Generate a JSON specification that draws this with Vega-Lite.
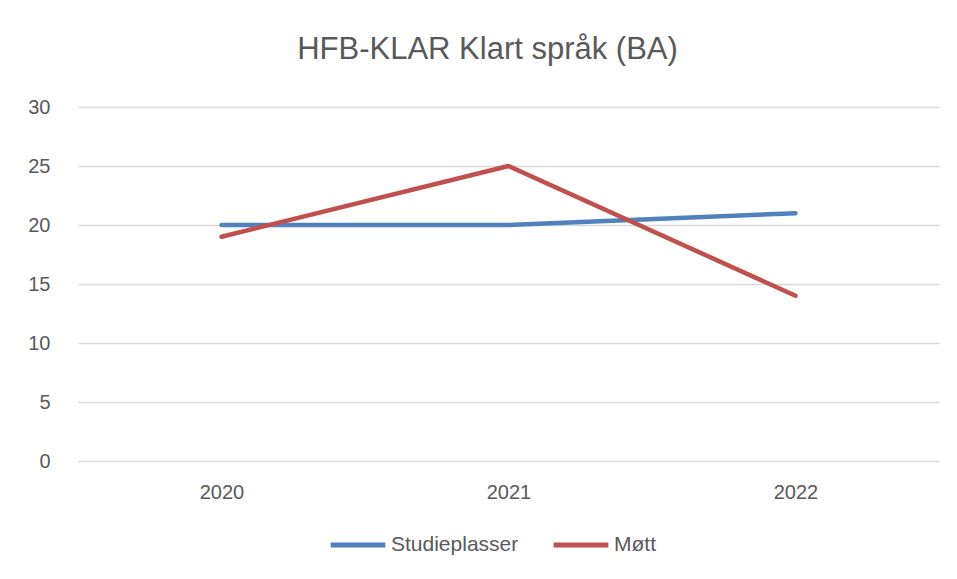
{
  "$schema": "https://vega.github.io/schema/vega-lite/v6.json",
  "width": 861,
  "height": 354,
  "autosize": {"type": "none"},
  "padding": {"left": 78, "top": 107, "right": 18, "bottom": 118},
  "background": "white",
  "title": {
    "text": "HFB-KLAR Klart språk (BA)",
    "font": "Liberation Sans",
    "fontSize": 31,
    "fontWeight": "normal",
    "color": "#595959",
    "anchor": "middle",
    "frame": "group",
    "dx": -21,
    "offset": 31
  },
  "data": {
    "values": [
      {"year": "2020", "series": "Studieplasser", "value": 20},
      {"year": "2021", "series": "Studieplasser", "value": 20},
      {"year": "2022", "series": "Studieplasser", "value": 21},
      {"year": "2020", "series": "Møtt", "value": 19},
      {"year": "2021", "series": "Møtt", "value": 25},
      {"year": "2022", "series": "Møtt", "value": 14}
    ]
  },
  "mark": {"type": "line", "strokeWidth": 4.5, "strokeCap": "round", "strokeJoin": "round"},
  "encoding": {
    "x": {
      "field": "year",
      "type": "ordinal",
      "scale": {"type": "point", "padding": 0.5},
      "axis": {
        "title": null,
        "labelAngle": 0,
        "ticks": false,
        "domain": false,
        "grid": false,
        "labelPadding": 21,
        "labelFont": "Liberation Sans",
        "labelFontSize": 20,
        "labelColor": "#595959"
      }
    },
    "y": {
      "field": "value",
      "type": "quantitative",
      "scale": {"domain": [0, 30], "nice": false},
      "axis": {
        "title": null,
        "values": [0, 5, 10, 15, 20, 25, 30],
        "ticks": false,
        "domain": false,
        "grid": true,
        "gridColor": "#d9d9d9",
        "gridWidth": 1.3,
        "labelPadding": 28,
        "labelFont": "Liberation Sans",
        "labelFontSize": 20,
        "labelColor": "#595959"
      }
    },
    "color": {
      "field": "series",
      "type": "nominal",
      "sort": ["Studieplasser", "Møtt"],
      "scale": {"domain": ["Studieplasser", "Møtt"], "range": ["#4f81bd", "#c0504d"]},
      "legend": {
        "title": null,
        "orient": "none",
        "direction": "horizontal",
        "legendX": 250,
        "legendY": 408,
        "symbolType": "stroke",
        "symbolSize": 3000,
        "symbolStrokeWidth": 5,
        "symbolOffset": 0,
        "labelOffset": 3,
        "columnPadding": 24,
        "labelFont": "Liberation Sans",
        "labelFontSize": 21,
        "labelColor": "#595959"
      }
    }
  },
  "config": {"view": {"stroke": null}}
}
